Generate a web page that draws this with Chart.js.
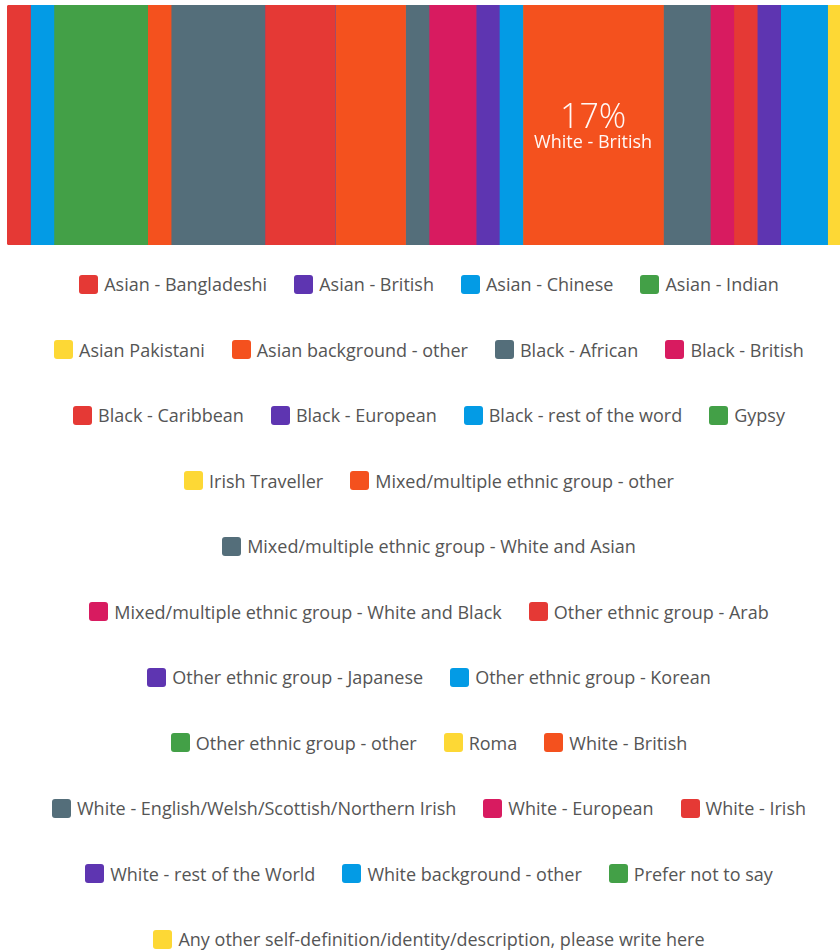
<!DOCTYPE html>
<html>
<head>
<meta charset="utf-8">
<script src="https://cdn.jsdelivr.net/npm/chart.js@4"></script>
<style>
  html, body { margin: 0; padding: 0; background: #ffffff; overflow: hidden; }
  #wrap { position: relative; width: 858px; height: 951px; }
  #bar { display: block; }
  #legend {
    position: absolute; top: 274px; left: 34px; width: 790px;
    display: flex; flex-wrap: wrap; justify-content: center;
    column-gap: 27px; row-gap: 45.5px;
    font-family: "Open Sans", sans-serif; font-size: 18px; color: #555555;
  }
  .item { display: flex; align-items: center; height: 20px; white-space: nowrap; }
  .swatch { width: 19px; height: 19px; border-radius: 3px; margin-right: 6px; flex: none; }
  .item span { line-height: 20px; }
</style>
</head>
<body>
<div id="wrap">
  <canvas id="bar" width="858" height="250"></canvas>
  <div id="legend"></div>
</div>
<script>
// Respondents by ethnic group (counts)
const categories = [
  'Asian - Bangladeshi', 'Asian - British', 'Asian - Chinese', 'Asian - Indian',
  'Asian Pakistani', 'Asian background - other', 'Black - African', 'Black - British',
  'Black - Caribbean', 'Black - European', 'Black - rest of the word', 'Gypsy',
  'Irish Traveller', 'Mixed/multiple ethnic group - other',
  'Mixed/multiple ethnic group - White and Asian',
  'Mixed/multiple ethnic group - White and Black', 'Other ethnic group - Arab',
  'Other ethnic group - Japanese', 'Other ethnic group - Korean',
  'Other ethnic group - other', 'Roma', 'White - British',
  'White - English/Welsh/Scottish/Northern Irish', 'White - European', 'White - Irish',
  'White - rest of the World', 'White background - other', 'Prefer not to say',
  'Any other self-definition/identity/description, please write here'
];
const counts = [
  1, 0, 1, 4,
  0, 1, 4, 0,
  3, 0, 0, 0,
  0, 3,
  1,
  2, 0,
  1, 1,
  0, 0, 6,
  2, 1, 1,
  1, 2, 0,
  1
];
const palette = ['#E53935', '#5E35B1', '#039BE5', '#43A047', '#FDD835', '#F4511E', '#546E7A', '#D81B60'];

const total = counts.reduce((a, b) => a + b, 0);
const last = categories.length - 1;

const datasets = categories.map((name, i) => ({
  label: name,
  data: [counts[i]],
  backgroundColor: palette[i % palette.length],
  borderWidth: 0,
  borderSkipped: false,
  borderRadius: i === 0 ? { topLeft: 3, bottomLeft: 3 }
              : i === last ? { topRight: 3, bottomRight: 3 } : 0,
  barPercentage: 1,
  categoryPercentage: 1
}));

// Percentage and name written inside the largest segment
const segmentLabel = {
  id: 'segmentLabel',
  afterDatasetsDraw(chart) {
    let idx = 0;
    counts.forEach((v, i) => { if (v > counts[idx]) idx = i; });
    const el = chart.getDatasetMeta(idx).data[0];
    if (!el) return;
    const cx = (el.x + el.base) / 2;
    const cy = el.y;
    const pct = Math.round(counts[idx] / total * 100) + '%';
    const ctx = chart.ctx;
    ctx.save();
    ctx.fillStyle = 'rgba(255,255,255,0.96)';
    ctx.textAlign = 'center';
    ctx.textBaseline = 'alphabetic';
    ctx.font = '300 34px "Open Sans", sans-serif';
    ctx.fillText(pct, cx, cy + 3);
    ctx.font = '400 18px "Open Sans", sans-serif';
    ctx.fillText(categories[idx], cx, cy + 23);
    ctx.restore();
  }
};

const chart = new Chart(document.getElementById('bar'), {
  type: 'bar',
  data: { labels: ['Ethnicity'], datasets },
  options: {
    indexAxis: 'y',
    responsive: false,
    animation: false,
    layout: { padding: { left: 7, right: 7, top: 5, bottom: 5 } },
    scales: {
      x: { stacked: true, min: 0, max: total, display: false },
      y: { stacked: true, display: false }
    },
    plugins: {
      legend: { display: false },
      tooltip: { enabled: false }
    }
  },
  plugins: [segmentLabel]
});

// Legend built from the chart's datasets
const legendEl = document.getElementById('legend');
chart.data.datasets.forEach(ds => {
  const item = document.createElement('div');
  item.className = 'item';
  const sw = document.createElement('div');
  sw.className = 'swatch';
  sw.style.background = ds.backgroundColor;
  const txt = document.createElement('span');
  txt.textContent = ds.label;
  item.appendChild(sw);
  item.appendChild(txt);
  legendEl.appendChild(item);
});
</script>
</body>
</html>
